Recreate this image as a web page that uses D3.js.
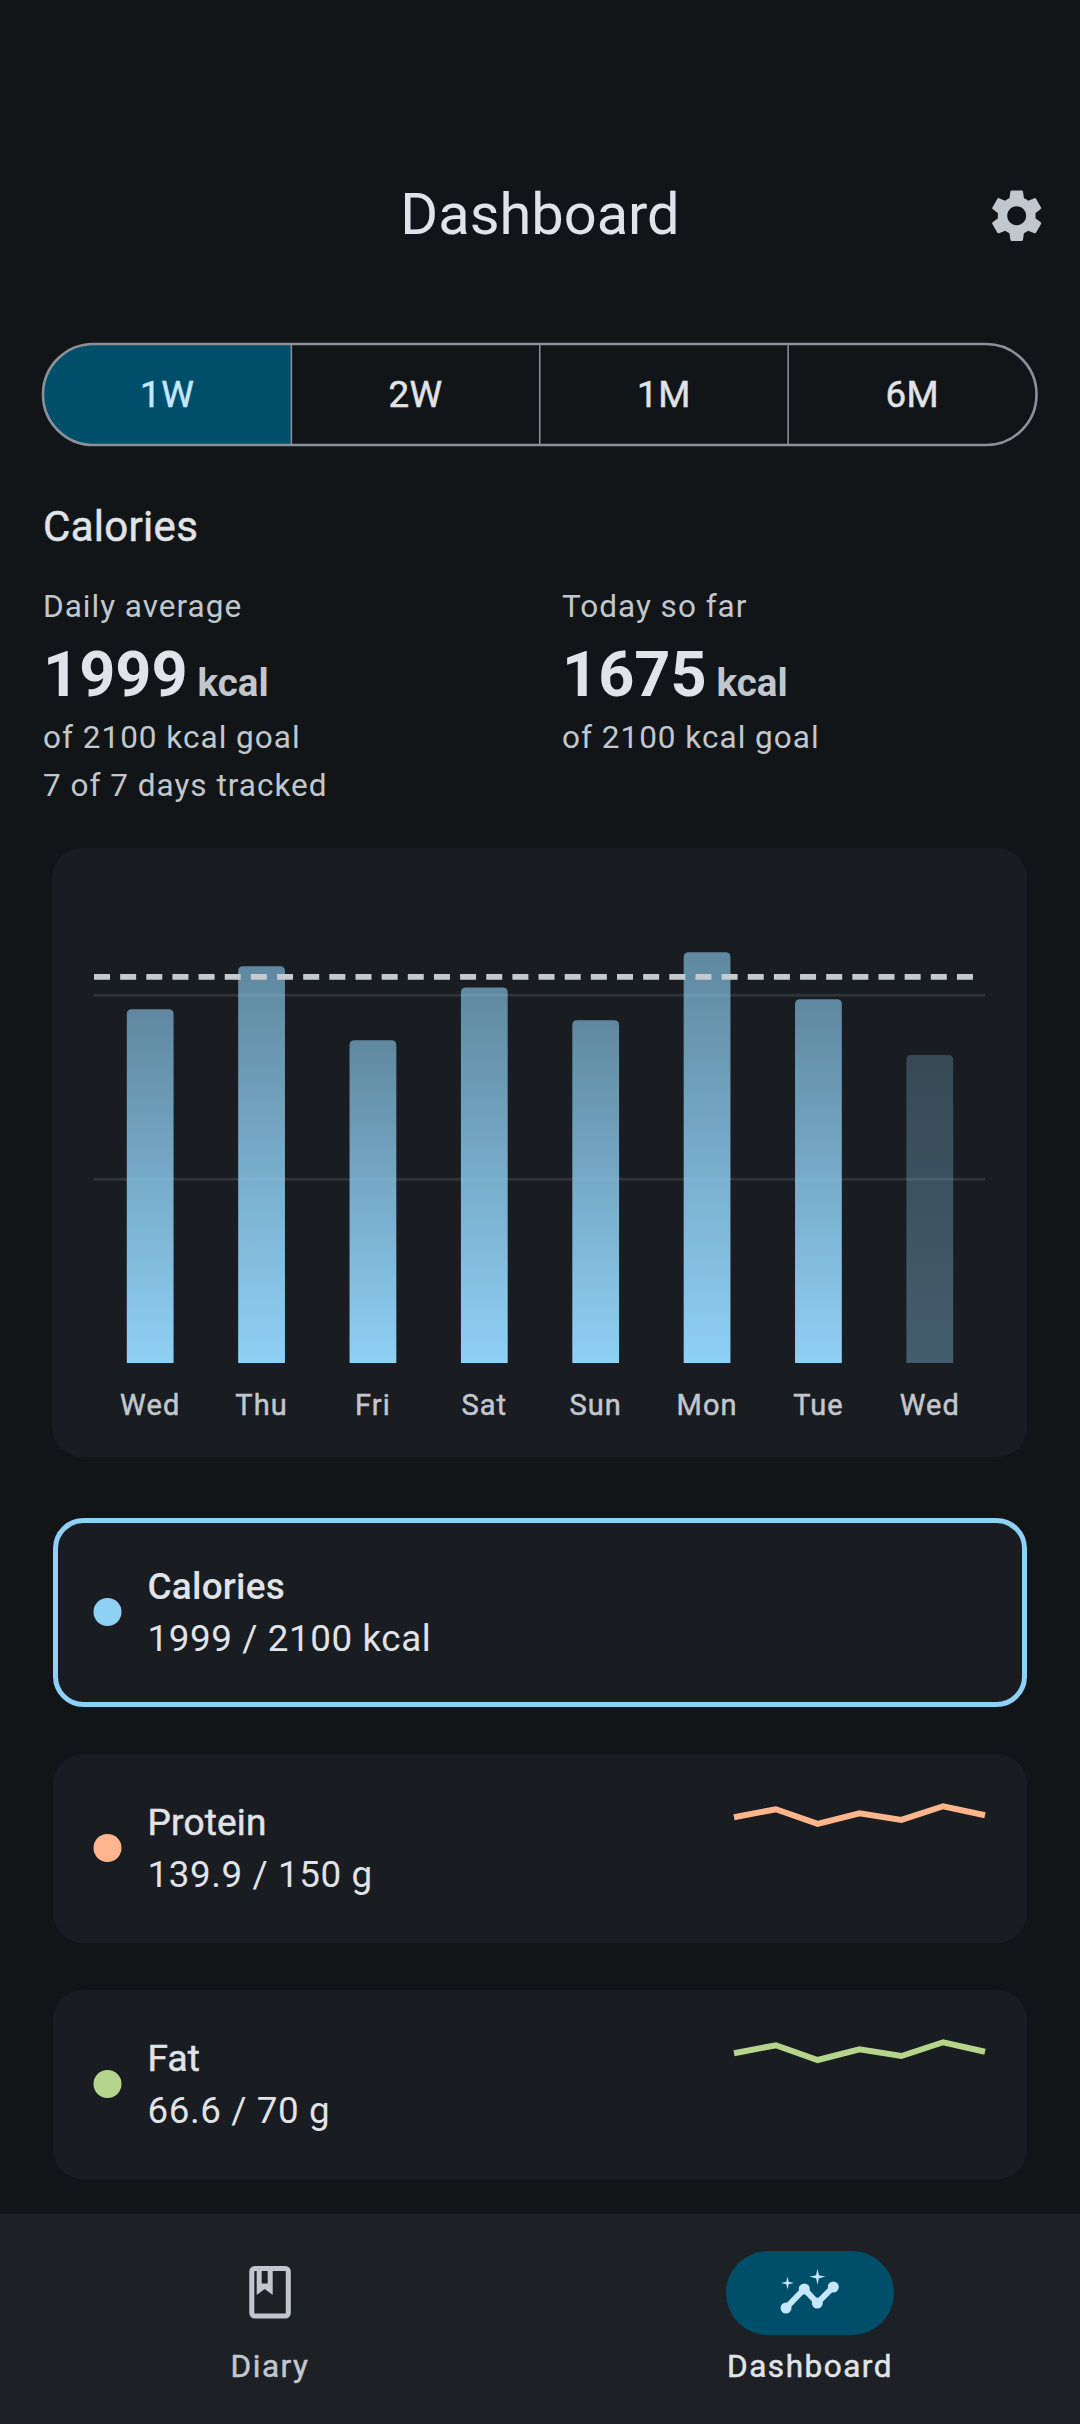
<!DOCTYPE html>
<html>
<head>
<meta charset="utf-8">
<script src="https://cdn.jsdelivr.net/npm/d3@7"></script>
<style>
html, body { margin: 0; padding: 0; background: #111518; }
svg { display: block; }
text { font-family: Roboto, sans-serif; }
</style>
</head>
<body>
<div id="chart-area"></div>
<script>
// values
var days = ["Wed", "Thu", "Fri", "Sat", "Sun", "Mon", "Tue", "Wed"]
var calories = [1924, 2158, 1755, 2043, 1864, 2234, 1978, 1675]
var calorieGoal = 2100
var gridTicks = [1000, 2000]
var proteinWeek = [136.6, 149.9, 125.5, 143.2, 132.2, 154.9, 139.9]
var fatWeek = [64.8, 71.2, 59.4, 68.0, 62.6, 73.6, 66.0]
var rangeLabels = ["1W", "2W", "1M", "6M"]

var colText = "#E0E3E7"
var colMuted = "#C2C7CE"
var colCard = "#191C20"
var colPrimary = "#8FD0F5"
var colContainer = "#004F6A"
var colOnContainer = "#C5E7FF"

var svg = d3.select("#chart-area")
	.append("svg")
	.attr("width", 1080)
	.attr("height", 2424)

svg.append("rect").attr("width", 1080).attr("height", 2424).attr("fill", "#111518")

// weight 450 is not a real face here: regular plus a hairline outline
function label(x, y, str, size, weight, fill, anchor, spacing) {
	var t = svg.append("text")
		.attr("x", x)
		.attr("y", y)
		.attr("font-size", size)
		.attr("font-weight", weight == 450 ? 400 : weight)
		.attr("fill", fill)
		.attr("text-anchor", anchor || "start")
		.attr("letter-spacing", spacing || 0)
		.text(str)
	if (weight == 450) t.attr("stroke", fill).attr("stroke-width", 0.5)
	return t
}

function card(x, y, w, h, r) {
	return svg.append("rect")
		.attr("x", x).attr("y", y)
		.attr("width", w).attr("height", h)
		.attr("rx", r)
		.attr("fill", colCard)
}

// header
label(540, 234, "Dashboard", 57.75, 400, colText, "middle")
svg.append("path")
	.attr("transform", "translate(985.2,184.2) scale(2.625)")
	.attr("fill", colMuted)
	.attr("d", "M19.14,12.94c0.04-0.3,0.06-0.61,0.06-0.94c0-0.32-0.02-0.64-0.07-0.94l2.03-1.58c0.18-0.14,0.23-0.41,0.12-0.61l-1.92-3.32c-0.12-0.22-0.37-0.29-0.59-0.22l-2.39,0.96c-0.5-0.38-1.03-0.7-1.62-0.94L14.4,2.81c-0.04-0.24-0.24-0.41-0.48-0.41h-3.84c-0.24,0-0.43,0.17-0.47,0.41L9.25,5.35C8.66,5.59,8.12,5.92,7.63,6.29L5.24,5.33c-0.22-0.08-0.47,0-0.59,0.22L2.74,8.87C2.62,9.08,2.66,9.34,2.86,9.48l2.03,1.58C4.84,11.36,4.8,11.69,4.8,12s0.02,0.64,0.07,0.94l-2.03,1.58c-0.18,0.14-0.23,0.41-0.12,0.61l1.92,3.32c0.12,0.22,0.37,0.29,0.59,0.22l2.39-0.96c0.5,0.38,1.03,0.7,1.62,0.94l0.36,2.54c0.05,0.24,0.24,0.41,0.48,0.41h3.84c0.24,0,0.44-0.17,0.47-0.41l0.36-2.54c0.59-0.24,1.13-0.56,1.62-0.94l2.39,0.96c0.22,0.08,0.47,0,0.59-0.22l1.92-3.32c0.12-0.22,0.07-0.47-0.12-0.61L19.14,12.94z M12,15.6c-1.98,0-3.6-1.62-3.6-3.6s1.62-3.6,3.6-3.6s3.6,1.62,3.6,3.6S13.98,15.6,12,15.6z")

// range selector
var segX = d3.scaleBand().domain(rangeLabels).range([43, 1036.5])
var segTop = 344, segH = 101, segR = 50.5

var defs = svg.append("defs")
defs.append("clipPath").attr("id", "seg-clip")
	.append("rect")
	.attr("x", 43).attr("y", segTop)
	.attr("width", 993.5).attr("height", segH)
	.attr("rx", segR)

svg.append("rect")
	.attr("clip-path", "url(#seg-clip)")
	.attr("x", segX("1W")).attr("y", segTop)
	.attr("width", segX.bandwidth()).attr("height", segH)
	.attr("fill", colContainer)

svg.selectAll(".seg-div").data(rangeLabels.slice(1)).enter()
	.append("line")
	.attr("class", "seg-div")
	.attr("x1", function(d) { return segX(d) })
	.attr("x2", function(d) { return segX(d) })
	.attr("y1", segTop).attr("y2", segTop + segH)
	.attr("stroke", "#8C9199")
	.attr("stroke-width", 1.5)

svg.append("rect")
	.attr("x", 43).attr("y", segTop)
	.attr("width", 993.5).attr("height", segH)
	.attr("rx", segR)
	.attr("fill", "none")
	.attr("stroke", "#8C9199")
	.attr("stroke-width", 2.6)

rangeLabels.forEach(function(d, i) {
	label(segX(d) + segX.bandwidth() / 2, 407, d, 36.75, 450, i == 0 ? colOnContainer : colText, "middle", 0.5)
})

// summary
label(43, 541, "Calories", 42, 450, colText, "start", 0.3)

function summary(x, title, big, lines) {
	label(x, 616.5, title, 31.5, 400, colMuted, "start", 1)
	var n = label(x, 696, big, 63, 700, colText)
	label(x + n.node().getComputedTextLength() + 10, 696, "kcal", 38.5, 700, colMuted)
	lines.forEach(function(d, i) {
		label(x, 747.5 + i * 48.5, d, 31.5, 400, colMuted, "start", 1)
	})
}
summary(43, "Daily average", "1999", ["of 2100 kcal goal", "7 of 7 days tracked"])
summary(562, "Today so far", "1675", ["of 2100 kcal goal"])

// bar chart
card(52, 848, 975, 609, 30)

var x = d3.scaleBand()
	.domain(d3.range(days.length))
	.range([94.5, 985.5])
	.paddingInner(0.58)
	.paddingOuter(0.29)

var y = d3.scaleLinear()
	.domain([0, 2000])
	.range([1363, 995.3])

var soft = defs.append("linearGradient").attr("id", "bar-grad").attr("x1", 0).attr("x2", 0).attr("y1", 0).attr("y2", 1)
soft.append("stop").attr("offset", 0).attr("stop-color", colPrimary).attr("stop-opacity", 0.6)
soft.append("stop").attr("offset", 1).attr("stop-color", colPrimary).attr("stop-opacity", 1)

var faded = defs.append("linearGradient").attr("id", "bar-grad-today").attr("x1", 0).attr("x2", 0).attr("y1", 0).attr("y2", 1)
faded.append("stop").attr("offset", 0).attr("stop-color", colPrimary).attr("stop-opacity", 0.25)
faded.append("stop").attr("offset", 1).attr("stop-color", colPrimary).attr("stop-opacity", 0.36)

var grid = svg.append("g")
	.attr("transform", "translate(94,0)")
	.call(d3.axisLeft(y).tickValues(gridTicks).tickSize(-891).tickFormat("").offset(0))
grid.select(".domain").remove()
grid.selectAll("line").attr("stroke", "#2E3338").attr("stroke-width", 3)

function barPath(d, i) {
	var x0 = x(i), x1 = x0 + x.bandwidth(), top = y(d), base = y(0), r = 5
	return "M" + x0 + "," + base + "V" + (top + r) + "Q" + x0 + "," + top + " " + (x0 + r) + "," + top +
		"H" + (x1 - r) + "Q" + x1 + "," + top + " " + x1 + "," + (top + r) + "V" + base + "Z"
}

svg.selectAll(".bar").data(calories).enter()
	.append("path")
	.attr("class", "bar")
	.attr("d", barPath)
	.attr("fill", function(d, i) {
		return i == calories.length - 1 ? "url(#bar-grad-today)" : "url(#bar-grad)"
	})

svg.append("line")
	.attr("x1", 94).attr("x2", 976)
	.attr("y1", y(calorieGoal)).attr("y2", y(calorieGoal))
	.attr("stroke", "#C4CACE")
	.attr("stroke-width", 5.8)
	.attr("stroke-dasharray", "16 10.15")

var xAxis = svg.append("g")
	.attr("transform", "translate(0,1363)")
	.call(d3.axisBottom(x).tickSize(0).tickFormat(function(i) { return days[i] }).offset(0))
xAxis.select(".domain").remove()
xAxis.selectAll("text")
	.attr("y", 52)
	.attr("dy", 0)
	.attr("font-size", 29)
	.attr("font-family", "Roboto, sans-serif")
	.attr("letter-spacing", 1.1)
	.attr("fill", colMuted)
	.attr("stroke", colMuted)
	.attr("stroke-width", 0.5)

// nutrient cards
function nutrient(top, dot, name, nameWeight, value) {
	var c = card(53, top, 974, 189, 30)
	svg.append("circle").attr("cx", 107.5).attr("cy", top + 94).attr("r", 14).attr("fill", dot)
	label(147.5, top + 81, name, 37, nameWeight, colText, "start", 0.2)
	label(147.5, top + 133, value, 36.75, 400, colText, "start", 0.6)
	return c
}

nutrient(1518, colPrimary, "Calories", 500, "1999 / 2100 kcal")
	.attr("x", 55.5).attr("y", 1520.5).attr("width", 969).attr("height", 184).attr("rx", 28)
	.attr("stroke", colPrimary).attr("stroke-width", 5)
nutrient(1754, "#FFB68F", "Protein", 450, "139.9 / 150 g")
nutrient(1990, "#B4D58B", "Fat", 450, "66.6 / 70 g")

var sparkX = d3.scalePoint().domain(d3.range(7)).range([734, 985])

function sparkline(values, y0, y1, domain, color) {
	var sy = d3.scaleLinear().domain(domain).range([y0, y1])
	var line = d3.line()
		.x(function(d, i) { return sparkX(i) })
		.y(function(d) { return sy(d) })
	svg.append("path")
		.attr("d", line(values))
		.attr("fill", "none")
		.attr("stroke", color)
		.attr("stroke-width", 6)
}
sparkline(proteinWeek, 1827.2, 1803.2, [120, 160], "#FFB68F")
sparkline(fatWeek, 2065.5, 2034.25, [55, 80], "#B4D58B")

// bottom navigation
svg.append("rect").attr("y", 2214).attr("width", 1080).attr("height", 210).attr("fill", "#1D2024")
svg.append("rect").attr("x", 726).attr("y", 2251).attr("width", 168).attr("height", 84).attr("rx", 42).attr("fill", colContainer)

// diary icon
svg.append("rect")
	.attr("x", 251.8).attr("y", 2268.5)
	.attr("width", 36.5).attr("height", 47.5)
	.attr("rx", 3)
	.attr("fill", "none")
	.attr("stroke", colMuted)
	.attr("stroke-width", 5)
svg.append("path")
	.attr("fill", colMuted)
	.attr("fill-rule", "evenodd")
	.attr("d", "M256.7,2268V2295L264.7,2289L272.7,2295V2268Z M261.7,2268V2283.5H267.7V2268Z")

// dashboard icon
var iconPts = [[786, 2308], [804.3, 2289], [817.3, 2303], [833.3, 2287]]
svg.append("path")
	.attr("d", d3.line()(iconPts))
	.attr("fill", "none")
	.attr("stroke", colOnContainer)
	.attr("stroke-width", 6)
svg.selectAll(".icon-dot").data(iconPts).enter()
	.append("circle")
	.attr("class", "icon-dot")
	.attr("cx", function(d) { return d[0] })
	.attr("cy", function(d) { return d[1] })
	.attr("r", 5.5)
	.attr("fill", colOnContainer)

function sparkle(cx, cy, r) {
	var k = r * 0.18
	svg.append("path")
		.attr("fill", colOnContainer)
		.attr("d", "M" + cx + "," + (cy - r) + "L" + (cx + k) + "," + (cy - k) + "L" + (cx + r) + "," + cy +
			"L" + (cx + k) + "," + (cy + k) + "L" + cx + "," + (cy + r) + "L" + (cx - k) + "," + (cy + k) +
			"L" + (cx - r) + "," + cy + "L" + (cx - k) + "," + (cy - k) + "Z")
}
sparkle(817.5, 2276.7, 8)
sparkle(787.5, 2283, 6.5)

label(270, 2377, "Diary", 31.5, 450, colMuted, "middle", 1.5)
label(810, 2377, "Dashboard", 31.5, 450, colText, "middle", 1.5)
</script>
</body>
</html>
